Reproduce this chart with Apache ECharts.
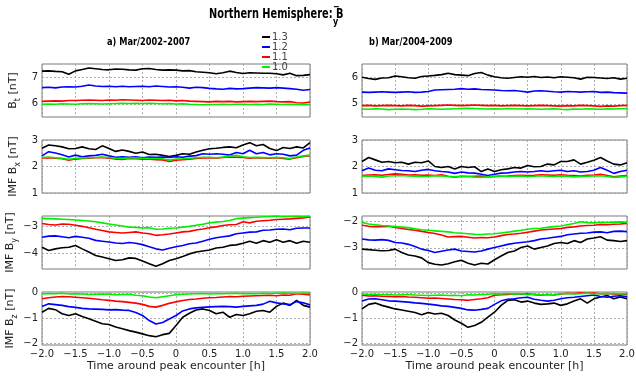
<!DOCTYPE html>
<html>
<head>
<meta charset="utf-8">
<script src="https://cdn.jsdelivr.net/npm/echarts@6/dist/echarts.min.js"></script>
<style>
  html, body { margin: 0; padding: 0; background: #fff; }
  #chart { width: 636px; height: 378px; }
</style>
</head>
<body>
<div id="chart"></div>
<script>
// time axis [h]
const timeHours = [-2.0, -1.9, -1.8, -1.7, -1.6, -1.5, -1.4, -1.3, -1.2, -1.1, -1.0, -0.9, -0.8, -0.7, -0.6, -0.5, -0.4, -0.3, -0.2, -0.1, 0.0,
  0.1, 0.2, 0.3, 0.4, 0.5, 0.6, 0.7, 0.8, 0.9, 1.0, 1.1, 1.2, 1.3, 1.4, 1.5, 1.6, 1.7, 1.8, 1.9, 2.0];

const levels = ['1.3', '1.2', '1.1', '1.0'];

// a) Mar/2002-2007
const btA13 = [7.23, 7.24, 7.22, 7.21, 7.11, 7.24, 7.29, 7.35, 7.32, 7.29, 7.28, 7.31, 7.30, 7.28, 7.27, 7.32, 7.33, 7.29, 7.27, 7.28, 7.27, 7.24, 7.25, 7.21, 7.19, 7.17, 7.13, 7.17, 7.23, 7.18, 7.14, 7.17, 7.16, 7.15, 7.15, 7.13, 7.09, 7.15, 7.06, 7.07, 7.10];
const btA12 = [6.61, 6.62, 6.60, 6.63, 6.64, 6.63, 6.66, 6.71, 6.67, 6.65, 6.66, 6.64, 6.66, 6.64, 6.65, 6.66, 6.64, 6.67, 6.65, 6.63, 6.64, 6.62, 6.59, 6.62, 6.61, 6.58, 6.56, 6.55, 6.58, 6.56, 6.57, 6.59, 6.61, 6.60, 6.59, 6.61, 6.59, 6.57, 6.55, 6.51, 6.54];
const btA11 = [6.09, 6.10, 6.11, 6.10, 6.12, 6.12, 6.13, 6.14, 6.13, 6.12, 6.14, 6.13, 6.15, 6.14, 6.13, 6.12, 6.14, 6.13, 6.12, 6.13, 6.11, 6.12, 6.10, 6.09, 6.08, 6.07, 6.09, 6.08, 6.09, 6.07, 6.08, 6.09, 6.08, 6.09, 6.10, 6.08, 6.07, 6.08, 6.04, 6.03, 6.06];
const btA10 = [5.98, 5.99, 5.98, 6.00, 5.99, 5.98, 6.00, 6.01, 6.00, 5.99, 6.00, 6.01, 6.02, 6.01, 6.02, 6.01, 6.02, 6.01, 6.00, 6.01, 5.99, 6.00, 5.98, 5.97, 5.96, 5.97, 5.97, 5.98, 5.97, 5.98, 5.98, 5.97, 5.98, 5.97, 5.99, 5.98, 5.97, 5.98, 5.97, 5.96, 5.97];

const bxA13 = [2.69, 2.81, 2.78, 2.74, 2.67, 2.68, 2.74, 2.67, 2.64, 2.78, 2.68, 2.57, 2.62, 2.57, 2.50, 2.55, 2.45, 2.46, 2.42, 2.38, 2.42, 2.48, 2.46, 2.55, 2.61, 2.67, 2.69, 2.72, 2.74, 2.71, 2.81, 2.90, 2.78, 2.83, 2.68, 2.60, 2.72, 2.68, 2.74, 2.70, 2.90];
const bxA12 = [2.40, 2.56, 2.51, 2.44, 2.36, 2.43, 2.37, 2.40, 2.42, 2.46, 2.40, 2.35, 2.37, 2.35, 2.37, 2.33, 2.36, 2.35, 2.36, 2.34, 2.37, 2.35, 2.39, 2.41, 2.48, 2.46, 2.48, 2.46, 2.43, 2.53, 2.48, 2.61, 2.48, 2.53, 2.44, 2.48, 2.46, 2.40, 2.43, 2.61, 2.70];
const bxA11 = [2.32, 2.33, 2.31, 2.29, 2.24, 2.28, 2.30, 2.31, 2.33, 2.34, 2.31, 2.28, 2.27, 2.30, 2.29, 2.28, 2.28, 2.26, 2.25, 2.19, 2.24, 2.26, 2.28, 2.30, 2.32, 2.33, 2.31, 2.34, 2.36, 2.35, 2.34, 2.31, 2.33, 2.32, 2.31, 2.33, 2.30, 2.28, 2.33, 2.38, 2.41];
const bxA10 = [2.34, 2.36, 2.33, 2.31, 2.27, 2.31, 2.32, 2.33, 2.34, 2.36, 2.34, 2.31, 2.30, 2.32, 2.32, 2.31, 2.30, 2.30, 2.29, 2.24, 2.28, 2.29, 2.31, 2.33, 2.35, 2.35, 2.33, 2.36, 2.39, 2.42, 2.37, 2.34, 2.35, 2.34, 2.33, 2.35, 2.33, 2.30, 2.36, 2.40, 2.43];

const byA13 = [-3.78, -3.90, -3.84, -3.80, -3.78, -3.71, -3.84, -3.96, -4.09, -4.15, -4.21, -4.28, -4.25, -4.18, -4.20, -4.30, -4.40, -4.50, -4.40, -4.28, -4.21, -4.13, -4.03, -3.96, -3.92, -3.88, -3.81, -3.78, -3.71, -3.69, -3.63, -3.55, -3.63, -3.53, -3.59, -3.50, -3.59, -3.53, -3.63, -3.55, -3.59];
const byA12 = [-3.40, -3.36, -3.35, -3.38, -3.42, -3.37, -3.40, -3.44, -3.52, -3.55, -3.58, -3.62, -3.64, -3.60, -3.63, -3.68, -3.76, -3.84, -3.88, -3.82, -3.76, -3.71, -3.65, -3.62, -3.55, -3.48, -3.42, -3.38, -3.35, -3.27, -3.24, -3.21, -3.20, -3.14, -3.13, -3.10, -3.09, -3.12, -3.06, -3.05, -3.05];
const byA11 = [-2.88, -2.92, -2.94, -2.90, -2.91, -2.95, -2.99, -3.04, -3.10, -3.15, -3.20, -3.22, -3.24, -3.22, -3.20, -3.24, -3.27, -3.33, -3.31, -3.28, -3.24, -3.20, -3.18, -3.13, -3.09, -3.04, -3.01, -2.96, -2.93, -2.92, -2.82, -2.86, -2.80, -2.78, -2.76, -2.73, -2.72, -2.71, -2.69, -2.67, -2.64];
const byA10 = [-2.69, -2.70, -2.71, -2.72, -2.73, -2.75, -2.77, -2.79, -2.82, -2.86, -2.90, -2.94, -2.98, -3.02, -3.03, -3.05, -3.04, -3.10, -3.09, -3.06, -3.05, -3.02, -2.99, -2.95, -2.91, -2.86, -2.83, -2.81, -2.77, -2.70, -2.68, -2.66, -2.65, -2.63, -2.62, -2.60, -2.63, -2.62, -2.61, -2.63, -2.61];

const bzA13 = [-0.77, -0.62, -0.67, -0.83, -0.90, -0.83, -0.94, -1.03, -1.13, -1.23, -1.26, -1.36, -1.43, -1.50, -1.56, -1.63, -1.70, -1.74, -1.66, -1.61, -1.30, -0.97, -0.81, -0.68, -0.64, -0.70, -0.83, -0.77, -0.97, -0.86, -0.90, -0.83, -0.73, -0.70, -0.77, -0.54, -0.41, -0.50, -0.30, -0.50, -0.57];
const bzA12 = [-0.54, -0.44, -0.47, -0.50, -0.55, -0.58, -0.62, -0.64, -0.65, -0.66, -0.68, -0.67, -0.69, -0.70, -0.78, -0.90, -1.10, -1.24, -1.18, -1.04, -0.90, -0.72, -0.64, -0.60, -0.58, -0.56, -0.55, -0.54, -0.55, -0.57, -0.54, -0.52, -0.50, -0.45, -0.34, -0.40, -0.44, -0.47, -0.35, -0.40, -0.48];
const bzA11 = [-0.24, -0.20, -0.17, -0.15, -0.16, -0.18, -0.20, -0.22, -0.25, -0.28, -0.30, -0.33, -0.35, -0.38, -0.41, -0.46, -0.54, -0.57, -0.50, -0.42, -0.36, -0.31, -0.27, -0.25, -0.22, -0.20, -0.19, -0.17, -0.15, -0.16, -0.14, -0.13, -0.12, -0.11, -0.10, -0.12, -0.09, -0.10, -0.04, -0.06, -0.09];
const bzA10 = [-0.05, -0.03, -0.04, -0.02, -0.05, -0.04, -0.05, -0.07, -0.06, -0.05, -0.06, -0.08, -0.07, -0.06, -0.10, -0.12, -0.17, -0.20, -0.16, -0.12, -0.08, -0.06, -0.05, -0.04, -0.03, -0.05, -0.03, -0.04, -0.03, -0.02, -0.04, -0.03, -0.04, -0.02, -0.03, -0.02, -0.01, -0.02, -0.03, -0.01, -0.02];

// b) Mar/2004-2009
const btB13 = [6.00, 5.95, 5.92, 5.97, 5.98, 6.05, 6.02, 5.98, 5.96, 6.03, 6.05, 6.07, 6.10, 6.15, 6.10, 6.08, 6.06, 6.14, 6.18, 6.08, 6.02, 5.98, 5.96, 5.99, 6.02, 6.00, 6.03, 5.99, 6.01, 5.98, 6.02, 6.00, 5.98, 5.93, 6.00, 5.99, 5.97, 5.95, 5.98, 5.93, 5.96];
const btB12 = [5.44, 5.43, 5.44, 5.45, 5.44, 5.43, 5.44, 5.45, 5.43, 5.44, 5.46, 5.52, 5.53, 5.54, 5.55, 5.57, 5.55, 5.56, 5.54, 5.53, 5.52, 5.50, 5.49, 5.50, 5.47, 5.44, 5.48, 5.49, 5.47, 5.45, 5.44, 5.46, 5.45, 5.44, 5.45, 5.46, 5.43, 5.44, 5.42, 5.41, 5.40];
const btB11 = [4.93, 4.94, 4.92, 4.93, 4.94, 4.93, 4.92, 4.94, 4.93, 4.91, 4.92, 4.93, 4.94, 4.95, 4.94, 4.93, 4.94, 4.95, 4.94, 4.93, 4.94, 4.92, 4.93, 4.94, 4.93, 4.92, 4.93, 4.94, 4.93, 4.92, 4.91, 4.93, 4.92, 4.94, 4.93, 4.92, 4.90, 4.92, 4.91, 4.93, 4.94];
const btB10 = [4.80, 4.79, 4.81, 4.80, 4.78, 4.79, 4.80, 4.79, 4.78, 4.79, 4.81, 4.80, 4.79, 4.80, 4.81, 4.82, 4.83, 4.82, 4.81, 4.80, 4.81, 4.80, 4.82, 4.81, 4.80, 4.81, 4.80, 4.79, 4.80, 4.81, 4.79, 4.78, 4.80, 4.79, 4.81, 4.80, 4.79, 4.81, 4.80, 4.81, 4.82];

const bxB13 = [2.19, 2.34, 2.25, 2.16, 2.19, 2.14, 2.16, 2.09, 2.16, 2.14, 2.21, 2.00, 1.96, 2.00, 1.91, 2.00, 1.96, 1.99, 1.81, 1.91, 1.81, 1.88, 1.91, 1.96, 1.94, 2.04, 1.99, 2.00, 2.09, 2.06, 2.19, 2.19, 2.25, 2.09, 2.16, 2.24, 2.34, 2.21, 2.09, 2.06, 2.14];
const bxB12 = [1.84, 1.94, 1.86, 1.84, 1.91, 1.88, 1.85, 1.84, 1.81, 1.86, 1.89, 1.84, 1.81, 1.79, 1.74, 1.79, 1.76, 1.75, 1.71, 1.66, 1.71, 1.75, 1.76, 1.79, 1.81, 1.79, 1.81, 1.84, 1.81, 1.84, 1.86, 1.81, 1.84, 1.79, 1.81, 1.86, 1.96, 1.86, 1.74, 1.81, 1.86];
const bxB11 = [1.66, 1.68, 1.69, 1.67, 1.70, 1.72, 1.71, 1.68, 1.69, 1.67, 1.68, 1.66, 1.69, 1.63, 1.60, 1.63, 1.62, 1.63, 1.64, 1.61, 1.62, 1.63, 1.64, 1.66, 1.67, 1.66, 1.67, 1.69, 1.68, 1.67, 1.69, 1.67, 1.66, 1.64, 1.67, 1.68, 1.71, 1.66, 1.61, 1.64, 1.66];
const bxB10 = [1.63, 1.64, 1.62, 1.60, 1.64, 1.65, 1.66, 1.64, 1.63, 1.62, 1.63, 1.65, 1.64, 1.62, 1.61, 1.63, 1.62, 1.60, 1.59, 1.61, 1.63, 1.64, 1.62, 1.63, 1.64, 1.62, 1.63, 1.65, 1.63, 1.62, 1.64, 1.63, 1.61, 1.62, 1.63, 1.64, 1.65, 1.62, 1.59, 1.61, 1.63];

const byB13 = [-3.05, -3.07, -3.09, -3.11, -3.10, -3.05, -3.18, -3.27, -3.31, -3.38, -3.56, -3.62, -3.65, -3.60, -3.53, -3.47, -3.58, -3.65, -3.58, -3.61, -3.45, -3.31, -3.18, -3.12, -2.99, -2.93, -3.05, -2.99, -2.93, -2.84, -2.80, -2.84, -2.73, -2.80, -2.67, -2.63, -2.58, -2.71, -2.73, -2.76, -2.73];
const byB12 = [-2.67, -2.70, -2.71, -2.69, -2.72, -2.80, -2.82, -2.87, -2.95, -3.05, -3.10, -3.18, -3.13, -3.08, -3.05, -3.12, -3.14, -3.16, -3.12, -3.05, -2.99, -2.93, -2.87, -2.83, -2.80, -2.77, -2.73, -2.67, -2.64, -2.60, -2.57, -2.51, -2.48, -2.45, -2.44, -2.41, -2.40, -2.43, -2.38, -2.37, -2.39];
const byB11 = [-2.15, -2.19, -2.20, -2.20, -2.19, -2.23, -2.27, -2.31, -2.34, -2.38, -2.42, -2.46, -2.52, -2.59, -2.58, -2.57, -2.60, -2.63, -2.61, -2.62, -2.59, -2.54, -2.50, -2.48, -2.45, -2.41, -2.37, -2.33, -2.31, -2.29, -2.27, -2.23, -2.21, -2.18, -2.16, -2.15, -2.12, -2.13, -2.11, -2.10, -2.08];
const byB10 = [-2.04, -2.10, -2.13, -2.16, -2.18, -2.20, -2.22, -2.24, -2.28, -2.32, -2.34, -2.36, -2.38, -2.40, -2.43, -2.45, -2.47, -2.49, -2.50, -2.48, -2.47, -2.44, -2.41, -2.37, -2.34, -2.30, -2.27, -2.26, -2.23, -2.20, -2.18, -2.13, -2.08, -2.02, -2.05, -2.06, -2.04, -2.05, -2.03, -2.02, -2.04];

const bzB13 = [-0.64, -0.46, -0.41, -0.50, -0.57, -0.64, -0.68, -0.73, -0.78, -0.87, -0.78, -0.84, -0.81, -0.90, -1.08, -1.21, -1.37, -1.30, -1.17, -0.97, -0.77, -0.50, -0.30, -0.28, -0.37, -0.33, -0.41, -0.46, -0.44, -0.41, -0.50, -0.44, -0.33, -0.24, -0.41, -0.24, -0.17, -0.11, -0.24, -0.17, -0.24];
const bzB12 = [-0.33, -0.25, -0.24, -0.28, -0.32, -0.33, -0.35, -0.37, -0.40, -0.42, -0.45, -0.48, -0.52, -0.54, -0.58, -0.62, -0.68, -0.69, -0.66, -0.62, -0.46, -0.32, -0.26, -0.24, -0.20, -0.18, -0.26, -0.30, -0.33, -0.30, -0.24, -0.20, -0.18, -0.15, -0.12, -0.09, -0.15, -0.18, -0.14, -0.12, -0.16];
const bzB11 = [-0.10, -0.13, -0.12, -0.14, -0.15, -0.16, -0.15, -0.17, -0.18, -0.20, -0.22, -0.21, -0.23, -0.25, -0.27, -0.28, -0.30, -0.27, -0.24, -0.20, -0.10, -0.08, -0.07, -0.05, -0.06, -0.04, -0.08, -0.10, -0.07, -0.09, -0.05, -0.02, -0.03, 0.00, -0.02, -0.01, -0.04, -0.03, -0.05, -0.06, -0.07];
const bzB10 = [-0.05, -0.07, -0.06, -0.08, -0.07, -0.09, -0.08, -0.07, -0.09, -0.10, -0.11, -0.10, -0.09, -0.11, -0.10, -0.12, -0.08, -0.09, -0.07, -0.06, -0.04, -0.05, -0.03, -0.06, -0.04, -0.08, -0.05, -0.09, -0.07, -0.08, -0.04, -0.03, -0.05, -0.04, -0.02, -0.05, -0.03, -0.04, -0.02, -0.05, -0.04];

// y tick values per panel
const btTicksA = [6, 7];
const btTicksB = [5, 6];
const bxTicks = [1, 2, 3];
const byTicksA = [-4, -3];
const byTicksB = [-3, -2];
const bzTicks = [-2, -1, 0];

const FONT = "'DejaVu Sans', sans-serif";
const lineColors = ['#000000', '#0000ff', '#ff0000', '#00ee00'];
const colLeft = [42, 362];
const colWidth = [268, 265];
const rowTop = [64, 140, 216, 292];
const rowHeight = 53;

const panels = [
  { row: 0, col: 0, min: 5.5, max: 7.5, ticks: btTicksA, name: ['B', 't'], lines: [btA13, btA12, btA11, btA10] },
  { row: 0, col: 1, min: 4.5, max: 6.5, ticks: btTicksB, lines: [btB13, btB12, btB11, btB10] },
  { row: 1, col: 0, min: 1, max: 3, ticks: bxTicks, name: ['IMF B', 'x'], lines: [bxA13, bxA12, bxA11, bxA10] },
  { row: 1, col: 1, min: 1, max: 3, ticks: bxTicks, lines: [bxB13, bxB12, bxB11, bxB10] },
  { row: 2, col: 0, min: -4.6, max: -2.6, ticks: byTicksA, name: ['IMF B', 'y'], lines: [byA13, byA12, byA11, byA10] },
  { row: 2, col: 1, min: -3.8, max: -1.8, ticks: byTicksB, lines: [byB13, byB12, byB11, byB10] },
  { row: 3, col: 0, min: -2.07, max: 0.03, ticks: bzTicks, name: ['IMF B', 'z'], lines: [bzA13, bzA12, bzA11, bzA10] },
  { row: 3, col: 1, min: -2.07, max: 0.03, ticks: bzTicks, lines: [bzB13, bzB12, bzB11, bzB10] }
];

const minus = s => String(s).replace('-', '\u2212');
const gridLine = { show: true, lineStyle: { color: '#9a9a9a', type: [2, 2], width: 0.8 } };

const grid = [], xAxis = [], yAxis = [], series = [];
panels.forEach((p, i) => {
  const bottomRow = p.row === 3;
  grid.push({
    left: colLeft[p.col], top: rowTop[p.row], width: colWidth[p.col], height: rowHeight,
    show: true, borderColor: '#7a7a7a', borderWidth: 1, backgroundColor: 'transparent',
    containLabel: false, outerBoundsMode: 'none'
  });
  xAxis.push({
    gridIndex: i, type: 'value', min: -2, max: 2, interval: 0.5,
    axisLine: { show: false }, axisTick: { show: false },
    splitLine: gridLine,
    axisLabel: {
      show: bottomRow, fontSize: 10, color: '#222', fontFamily: FONT, margin: 4,
      formatter: v => (v === 0 ? '0' : minus(v.toFixed(1)))
    },
    name: bottomRow ? 'Time around peak encounter [h]' : '',
    nameLocation: 'middle', nameGap: 16,
    nameTextStyle: { fontSize: 11, color: '#222', fontFamily: FONT }
  });
  yAxis.push({
    gridIndex: i, type: 'value', min: p.min, max: p.max,
    axisLine: { show: false },
    axisTick: { show: false, customValues: p.ticks },
    splitLine: gridLine,
    axisLabel: {
      fontSize: 10, color: '#222', fontFamily: FONT, margin: 4,
      customValues: p.ticks, formatter: v => minus(v)
    },
    name: p.name ? '{m|' + p.name[0] + '}{s|' + p.name[1] + '}{m| [nT]}' : '',
    nameLocation: 'middle', nameRotate: 90, nameGap: 20,
    nameTextStyle: {
      fontFamily: FONT, color: '#222',
      rich: {
        m: { fontSize: 11, fontFamily: FONT, color: '#222', lineHeight: 18, verticalAlign: 'middle' },
        s: { fontSize: 8, fontFamily: FONT, color: '#222', lineHeight: 18, verticalAlign: 'bottom' }
      }
    }
  });
  p.lines.forEach((vals, k) => {
    series.push({
      name: levels[k], type: 'line', xAxisIndex: i, yAxisIndex: i,
      data: timeHours.map((t, j) => [t, vals[j]]),
      showSymbol: false, symbol: 'none', color: lineColors[k],
      lineStyle: { width: 1.6, color: lineColors[k] },
      emphasis: { disabled: true }
    });
  });
});

const chart = echarts.init(document.getElementById('chart'));
chart.setOption({
  animation: false,
  backgroundColor: '#fff',
  grid, xAxis, yAxis, series,
  legend: {
    data: levels, orient: 'vertical', left: 257, top: 27,
    icon: 'rect', itemWidth: 8, itemHeight: 2, itemGap: 0,
    textStyle: { fontSize: 10, color: '#444', fontFamily: FONT, padding: [0, 0, 0, -3] }
  },
  graphic: [
    { type: 'text', x: 209, y: 7, scaleX: 0.7, style: { text: 'Northern Hemisphere: B', font: 'bold 14px ' + FONT, fill: '#000' } },
    { type: 'text', x: 333, y: 17, scaleX: 0.8, style: { text: 'y', font: 'bold 10px ' + FONT, fill: '#000' } },
    { type: 'text', x: 333, y: 2, scaleX: 0.8, style: { text: '\u2212', font: 'bold 10px ' + FONT, fill: '#000' } },
    { type: 'text', x: 107, y: 37, scaleX: 0.75, style: { text: 'a) Mar/2002\u20132007', font: 'bold 11px ' + FONT, fill: '#000' } },
    { type: 'text', x: 369, y: 37, scaleX: 0.75, style: { text: 'b) Mar/2004\u20132009', font: 'bold 11px ' + FONT, fill: '#000' } }
  ]
});
</script>
</body>
</html>
